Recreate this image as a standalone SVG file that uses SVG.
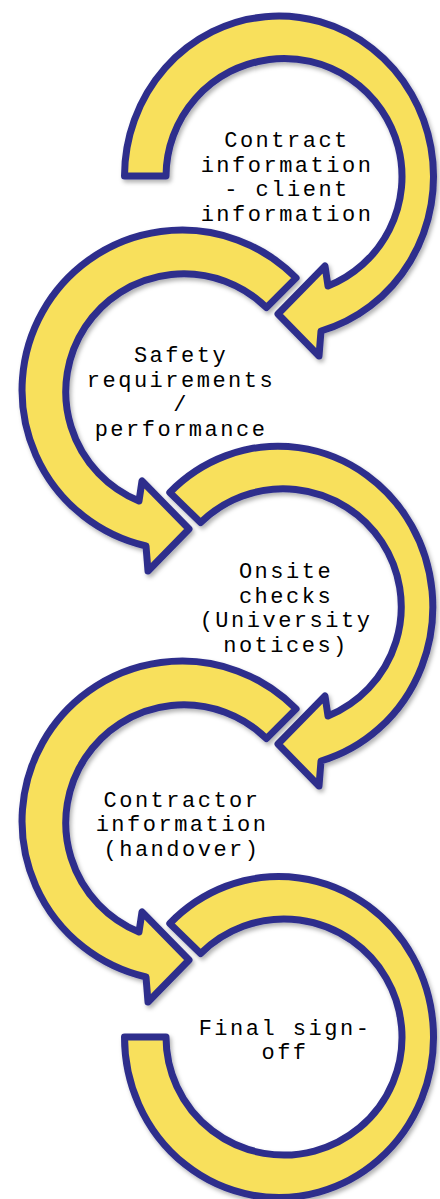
<svg xmlns="http://www.w3.org/2000/svg" width="440" height="1199" viewBox="0 0 440 1199">
  <defs>
    <filter id="sh" x="-10%" y="-10%" width="125%" height="125%">
      <feDropShadow dx="2" dy="3" stdDeviation="2.2" flood-color="#000" flood-opacity="0.3"/>
    </filter>
    <style>
      .arr { fill: #F8E05B; stroke: #2E2F8C; stroke-width: 7; stroke-linejoin: round; filter: url(#sh); }
      .lbl { font-family: "Liberation Mono", "DejaVu Sans Mono", monospace; font-size: 22px; letter-spacing: 2.5px; fill: #000; text-anchor: middle; }
    </style>
  </defs>
  <rect width="440" height="1199" fill="#fff"/>
  <g id="connectors"/>
  <g id="node1">
    <path class="arr" d="M 124.5 176 A 154.5 160.5 0 1 1 321 331 L 319 356 L 278 314 L 325 266 L 328 286 A 118 118 0 1 0 166 176 Z"/>
    <text class="lbl"><tspan x="287" y="147">Contract</tspan><tspan x="287" y="171.5">information</tspan><tspan x="287" y="196">- client</tspan><tspan x="287" y="220.5">information</tspan></text>
  </g>
  <g id="node2">
    <path class="arr" d="M 296.1 277.9 A 160 160 0 1 0 146 546 L 148 571 L 189 529 L 142 481 L 139 501 A 118 118 0 1 1 266.4 307.6 Z"/>
    <text class="lbl"><tspan x="181" y="362">Safety</tspan><tspan x="181" y="386.5">requirements</tspan><tspan x="181" y="411">/</tspan><tspan x="181" y="435.5">performance</tspan></text>
  </g>
  <g id="node3">
    <path class="arr" d="M 169.8 492.5 A 154.5 160.5 0 1 1 321 761 L 319 786 L 278 744 L 325 696 L 328 716 A 118 118 0 1 0 200.6 522.6 Z"/>
    <text class="lbl"><tspan x="286" y="578">Onsite</tspan><tspan x="286" y="602.5">checks</tspan><tspan x="286" y="627">(University</tspan><tspan x="286" y="651.5">notices)</tspan></text>
  </g>
  <g id="node4">
    <path class="arr" d="M 296.1 708.9 A 160 160 0 1 0 146 977 L 148 1002 L 189 960 L 142 912 L 139 932 A 118 118 0 1 1 266.4 738.6 Z"/>
    <text class="lbl"><tspan x="182" y="806.5">Contractor</tspan><tspan x="182" y="831">information</tspan><tspan x="182" y="855.5">(handover)</tspan></text>
  </g>
  <g id="node5">
    <path class="arr" d="M 169.8 923.5 A 154.5 160.5 0 1 1 124.5 1037 L 166 1037 A 118 118 0 1 0 200.6 953.6 Z"/>
    <text class="lbl"><tspan x="285" y="1034.5">Final sign-</tspan><tspan x="285" y="1059">off</tspan></text>
  </g>
</svg>
